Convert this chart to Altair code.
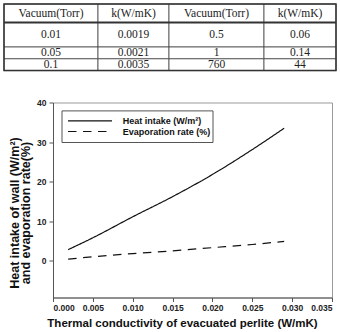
import altair as alt
import pandas as pd

# ---- table of measured conductivities ----
headers = ["Vacuum(Torr)", "k(W/mK)", "Vacuum(Torr)", "k(W/mK)"]
vacuum_left = ["0.01", "0.05", "0.1"]
k_left = ["0.0019", "0.0021", "0.0035"]
vacuum_right = ["0.5", "1", "760"]
k_right = ["0.06", "0.14", "44"]

# ---- curves vs. thermal conductivity ----
conductivity = [0.0019, 0.005, 0.010, 0.015, 0.020, 0.025, 0.029]
heat_intake = [2.8, 5.8, 11.1, 16.2, 21.8, 28.1, 33.5]
evaporation = [0.4, 1.0, 1.8, 2.5, 3.3, 4.1, 4.9]
series_names = ["Heat intake (W/m²)", "Evaporation rate (%)"]

x_ticks = [0.000, 0.005, 0.010, 0.015, 0.020, 0.025, 0.030, 0.035]
y_ticks = [0, 10, 20, 30, 40]

# ---- table layout (pixels) ----
COL_EDGES = [0, 94, 165, 260, 332]
ROW_EDGES = [0, 18.5, 43, 54.8, 66.6]
TABLE_SHIFT = 49  # how far the table reaches left of the plot origin
PLOT_W, PLOT_H = 279, 195
SANS = "Liberation Sans"
SERIF = "Liberation Serif"

rows = [headers] + [
    [vacuum_left[i], k_left[i], vacuum_right[i], k_right[i]] for i in range(3)
]
cells = []
for r, row in enumerate(rows):
    for c, label in enumerate(row):
        cells.append({
            "x0": COL_EDGES[c], "x1": COL_EDGES[c + 1],
            "y0": ROW_EDGES[r], "y1": ROW_EDGES[r + 1],
            "xm": (COL_EDGES[c] + COL_EDGES[c + 1]) / 2,
            "ym": (ROW_EDGES[r] + ROW_EDGES[r + 1]) / 2,
            "label": label,
        })
cells_df = pd.DataFrame(cells)
frame_df = pd.DataFrame([{"x0": COL_EDGES[0], "x1": COL_EDGES[-1],
                          "y0": ROW_EDGES[0], "y1": ROW_EDGES[-1],
                          "yh": ROW_EDGES[1]}])

tx = alt.Scale(domain=[TABLE_SHIFT, COL_EDGES[-1]], nice=False, zero=False)
ty = alt.Scale(domain=[0, ROW_EDGES[-1]], nice=False, zero=False, reverse=True)

cell_rects = alt.Chart(cells_df).mark_rect(
    fill="white", stroke="#444", strokeWidth=0.8
).encode(
    x=alt.X("x0:Q", scale=tx, axis=None), x2="x1:Q",
    y=alt.Y("y0:Q", scale=ty, axis=None), y2="y1:Q",
)
outer = alt.Chart(frame_df).mark_rect(
    fillOpacity=0, stroke="#333", strokeWidth=1.5
).encode(
    x=alt.X("x0:Q", scale=tx, axis=None), x2="x1:Q",
    y=alt.Y("y0:Q", scale=ty, axis=None), y2="y1:Q",
)
header_rule = alt.Chart(frame_df).mark_rule(
    color="#333", strokeWidth=1.8
).encode(
    x=alt.X("x0:Q", scale=tx, axis=None), x2="x1:Q",
    y=alt.Y("yh:Q", scale=ty, axis=None),
)
cell_text = alt.Chart(cells_df).mark_text(
    font=SERIF, fontSize=11.5, color="#222", baseline="middle", dy=0.5
).encode(
    x=alt.X("xm:Q", scale=tx, axis=None),
    y=alt.Y("ym:Q", scale=ty, axis=None),
    text="label:N",
)
table = alt.layer(cell_rects, outer, header_rule, cell_text).properties(
    width=COL_EDGES[-1] - TABLE_SHIFT, height=ROW_EDGES[-1],
    view=alt.ViewBackground(stroke="transparent"),
)

# ---- line chart ----
n = len(conductivity)
curve_df = pd.DataFrame({
    "k": conductivity * 2,
    "value": heat_intake + evaporation,
    "series": [series_names[0]] * n + [series_names[1]] * n,
})
dash_scale = alt.Scale(domain=series_names, range=[[1, 0], [8.5, 6.5]])

x_enc = alt.X(
    "k:Q",
    scale=alt.Scale(domain=[0, 0.035], nice=False, zero=False),
    axis=alt.Axis(
        values=x_ticks, format=".3f", grid=False,
        title="Thermal conductivity of evacuated perlite (W/mK)",
        titleX=129, titleY=20, titleBaseline="top", titleFontSize=11.5,
    ),
)
y_enc = alt.Y(
    "value:Q",
    scale=alt.Scale(domain=[-9.3, 40], nice=False, zero=False),
    axis=alt.Axis(
        values=y_ticks, format="d", grid=False,
        title=["Heat intake of wall (W/m²)", "and evaporation rate(%)"],
        titleX=-32, titleY=110, titleBaseline="bottom", titleLineHeight=11.5,
        titleFontSize=12.5, labelPadding=3,
    ),
)
lines = alt.Chart(curve_df).mark_line(
    color="#111", strokeWidth=1.2, interpolate="monotone"
).encode(
    x=x_enc, y=y_enc,
    strokeDash=alt.StrokeDash("series:N", scale=dash_scale, legend=None),
    detail="series:N",
)

# boxed key in the upper-left corner of the plot
key_df = pd.DataFrame({"one": [0]})
key_box = alt.Chart(key_df).mark_rect(
    fill="white", stroke="#555", strokeWidth=1
).encode(x=alt.value(9), x2=alt.value(160), y=alt.value(8.4), y2=alt.value(40))
key_layers = [key_box]
for i, name in enumerate(series_names):
    yy = 18.4 + i * 10.6
    key_layers.append(
        alt.Chart(key_df).mark_rule(
            color="#111", strokeWidth=1.2, strokeDash=dash_scale.range[i]
        ).encode(x=alt.value(15), x2=alt.value(59), y=alt.value(yy))
    )
    key_layers.append(
        alt.Chart(key_df).mark_text(
            text=name, font=SANS, fontSize=9, fontWeight="bold",
            color="#111", align="left", baseline="middle"
        ).encode(x=alt.value(69.7), y=alt.value(yy))
    )

plot = alt.layer(lines, *key_layers).properties(
    width=PLOT_W, height=PLOT_H,
    view=alt.ViewBackground(stroke="#999", strokeWidth=1),
)

chart = alt.vconcat(table, plot, spacing=25.5).properties(
    padding={"left": 2, "top": 2, "right": 0, "bottom": 0},
    background="white",
).configure_axis(
    labelFont=SANS, labelFontSize=8.5, labelFontWeight="bold", labelColor="#222",
    titleFont=SANS, titleFontWeight="bold", titleColor="#111",
    domainColor="#555", tickColor="#555", tickSize=4, labelPadding=2,
)

chart.save("out.html", embed_options={"renderer": "svg", "actions": False})
